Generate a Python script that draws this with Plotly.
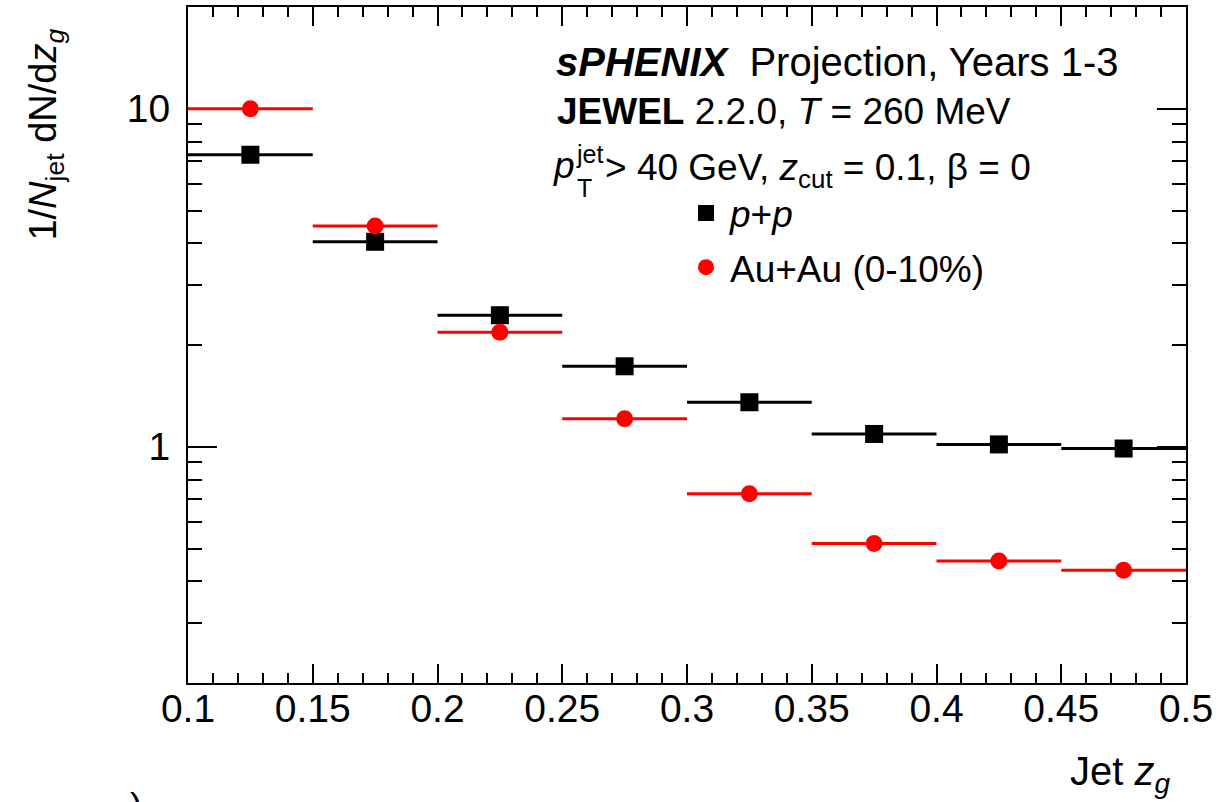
import plotly.graph_objects as go

# ---- data ----
zg_centers = [0.125, 0.175, 0.225, 0.275, 0.325, 0.375, 0.425, 0.475]
zg_half_bin = [0.025, 0.025, 0.025, 0.025, 0.025, 0.025, 0.025, 0.025]
pp_values = [7.31, 4.04, 2.45, 1.73, 1.354, 1.091, 1.016, 0.988]
auau_values = [10.0, 4.50, 2.18, 1.21, 0.726, 0.517, 0.459, 0.431]

x_tick_vals = [0.1, 0.15, 0.2, 0.25, 0.3, 0.35, 0.4, 0.45, 0.5]
x_tick_text = ["0.1", "0.15", "0.2", "0.25", "0.3", "0.35", "0.4", "0.45", "0.5"]
y_tick_vals = [1, 10]
y_tick_text = ["1", "10"]
y_minor_vals = [0.3, 0.4, 0.5, 0.6, 0.7, 0.8, 0.9, 2, 3, 4, 5, 6, 7, 8, 9]

FONT = "Liberation Sans, Arial, Helvetica, sans-serif"
W, H = 1231, 802
L, R, T, B = 188, 1186, 5, 683


def px(x):
    return (x - L) / (R - L)


def py(y):
    return (B - y) / (B - T)


fig = go.Figure()

fig.add_trace(go.Scatter(
    x=zg_centers, y=pp_values, mode="markers",
    name="<i>p</i>+<i>p</i>", legendgroup="pp",
    marker=dict(symbol="square", size=18, color="black"),
    error_x=dict(type="data", array=zg_half_bin, thickness=3, width=0, color="black"),
))
fig.add_trace(go.Scatter(
    x=zg_centers, y=auau_values, mode="markers",
    name="Au+Au (0-10%)", legendgroup="auau",
    marker=dict(symbol="circle", size=17, color="#ff0000"),
    error_x=dict(type="data", array=zg_half_bin, thickness=3, width=0, color="#ff0000"),
))

fig.update_xaxes(
    range=[0.1, 0.5], tickvals=x_tick_vals, ticktext=x_tick_text,
    ticks="inside", ticklen=19, tickwidth=1.5, tickcolor="black",
    minor=dict(ticks="inside", ticklen=10, tickwidth=1.5, tickcolor="black", dtick=0.01, showgrid=False),
    showline=True, linewidth=2, linecolor="black", mirror="allticks",
    showgrid=False, zeroline=False, layer="below traces",
    tickfont=dict(family=FONT, size=39, color="black"),
    ticklabelstandoff=-10,
)
fig.update_yaxes(
    type="log", range=[-0.69897, 1.30103], tickvals=y_tick_vals, ticktext=y_tick_text,
    ticks="inside", ticklen=29, tickwidth=1.5, tickcolor="black",
    minor=dict(ticks="inside", ticklen=14, tickwidth=1.5, tickcolor="black", tickvals=y_minor_vals, showgrid=False),
    showline=True, linewidth=2, linecolor="black", mirror="allticks",
    showgrid=False, zeroline=False, layer="below traces",
    tickfont=dict(family=FONT, size=39, color="black"),
    ticklabelstandoff=8,
)

big_font = dict(family=FONT, size=40, color="black")
ann_font = dict(family=FONT, size=37, color="black")
small_font = dict(family=FONT, size=25, color="black")
annotations = [
    dict(text="<b><i>sPHENIX</i></b>  Projection, Years 1-3", x=px(554), y=py(60), font=big_font),
    dict(text="<b>JEWEL</b> 2.2.0, <i>T</i> = 260 MeV", x=px(555), y=py(110)),
    dict(text="<i>p</i>", x=px(551), y=py(164)),
    dict(text="jet", x=px(574), y=py(152), font=small_font),
    dict(text="T", x=px(575), y=py(187), font=small_font),
    dict(text="> 40 GeV, <i>z</i><sub>cut</sub> = 0.1, β = 0", x=px(603), y=py(168)),
]
for a in annotations:
    a.setdefault("font", ann_font)
    fig.add_annotation(xref="paper", yref="paper", xanchor="left", yanchor="middle",
                       showarrow=False, **a)

# axis titles
fig.add_annotation(text="1/<i>N</i><sub>jet</sub> dN/d<i>z</i><sub><i>g</i></sub>",
                   xref="paper", yref="paper", x=px(46), y=py(133), textangle=-90,
                   xanchor="center", yanchor="middle", showarrow=False,
                   font=dict(family=FONT, size=38, color="black"))
fig.add_annotation(text="Jet <i>z</i><sub><i>g</i></sub>",
                   xref="paper", yref="paper", x=px(1172), y=py(774),
                   xanchor="right", yanchor="middle", showarrow=False, font=big_font)
# stray glyph fragment at the bottom edge
fig.add_annotation(text=")", xref="paper", yref="paper", x=px(136), y=py(784),
                   xanchor="center", yanchor="top", showarrow=False, font=ann_font)

fig.update_layout(
    width=W, height=H,
    margin=dict(l=L, r=W - R, t=T, b=H - B, pad=0),
    paper_bgcolor="white", plot_bgcolor="white",
    showlegend=True,
    legend=dict(x=px(682), y=py(181), xanchor="left", yanchor="top",
                font=dict(family=FONT, size=37, color="black"),
                bgcolor="rgba(0,0,0,0)", tracegroupgap=3, itemsizing="trace",
                itemwidth=38),
    font=dict(family=FONT),
)

fig.write_html("out.html", config={"displayModeBar": False},
               post_script="document.body.style.margin='0';")
